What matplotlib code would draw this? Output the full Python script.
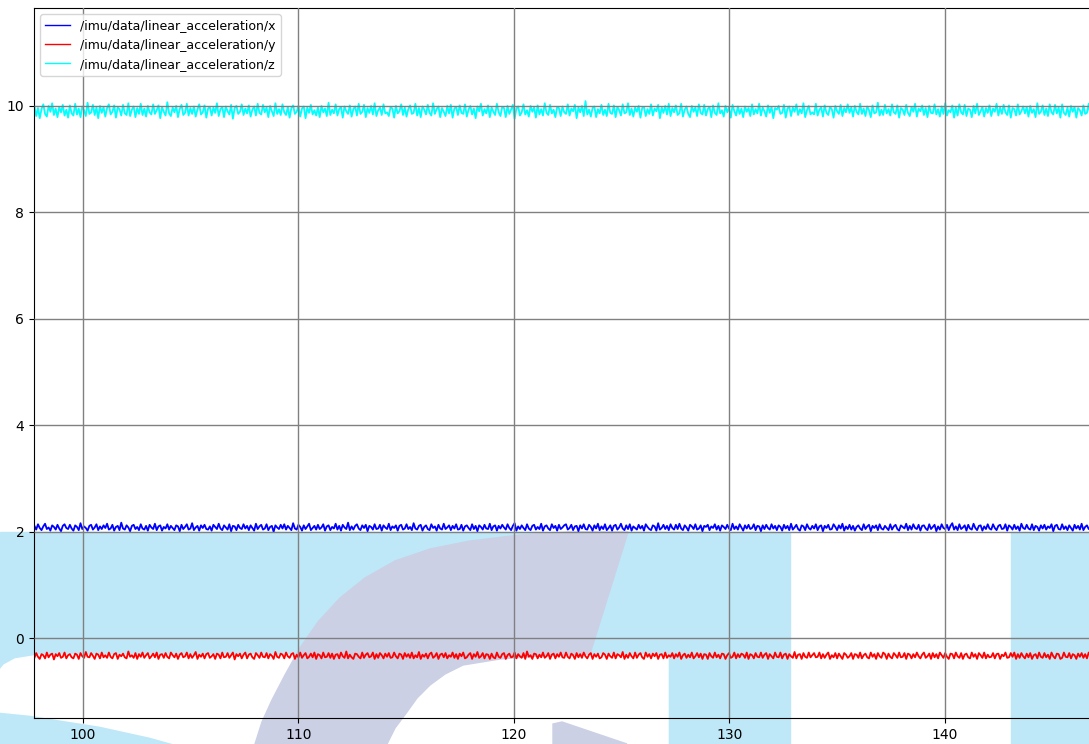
import numpy as np
import matplotlib
matplotlib.use("Agg")
import matplotlib.pyplot as plt
from matplotlib.patches import Polygon, Rectangle

# imu accel topics, sampled evenly between t_start and t_end (s)
t_start = 97.75
t_end = 147.0

labels = ["/imu/data/linear_acceleration/x",
          "/imu/data/linear_acceleration/y",
          "/imu/data/linear_acceleration/z"]
colors = ["#0000ff", "#ff0000", "#00ffff"]

# mean level of each axis (m/s^2)
acc_x_mean = 2.08
acc_y_mean = -0.33
acc_z_mean = 9.91

# deviation from the mean, in 0.01 m/s^2
acc_x_dev = [
    3, -4, 6, -1, -5, 2, 7, -3, 0, -6, 4, 1, -4, 5, -2, -7, 3, 6, -1, -3,
    5, -2, -6, 4, 1, -5, 8, -3, 2, -1, -6, 3, 5, -4, 0, 6, -5, 2, -3, 4,
    -1, 7, -4, -2, 5, -6, 1, 3, -5, 9, -2, -4, 4, 0, -7, 3, 5, -3, 1, -5,
    6, -2, -4, 3, -6, 5, 0, -3, 7, -5, 2, 4, -6, 1, -2, 6, -4, 3, -1, -5,
    4, 2, -7, 5, -3, 1, 6, -4, -2, 8, -5, 0, 3, -6, 4, -1, 5, -3, -4, 2,
    -6, 5, 1, -3, 7, -2, -5, 4, 0, -4, 6, -7, 3, 2, -5, 5, -1, -3, 6, -2,
    3, -5, 4, -1, -6, 7, -3, 2, 5, -4, -2, 6, -5, 1, 3, -8, 4, 0, -3, 5,
    -2, 6, -4, 3, -1, -5, 8, -2, -4, 5, 1, -6, 4, -3, 2, 7, -5, -1, 3, -4,
    5, -3, 0, 6, -6, 2, 4, -5, 1, -2, 7, -4, 3, -6, 5, 0, -3, 9, -5, 2,
    -4, 3, 6, -2, -5, 4, -1, 5, -7, 3, 1, -4, 6, -3, -2, 5, -6, 4, 0, -3,
    7, -5, 2, -1, 4, -6, 3, 5, -4, -2, 6, -3, 1, -5, 8, -2, -4, 3, 5, -6,
    1, 4, -3, -5, 6, -1, 2, -6, 5, -2, -4, 7, -3, 0, 4, -5, 3, -2, 6, -4,
    -3, 5, -6, 2, 4, -1, -5, 6, -3, 3, -7, 4, 1, -4, 5, -2, -3, 7, -5, 2,
    4, -6, 3, -2, 5, 0, -4, 6, -1, -5, 3, 8, -6, 2, -3, 4, -1, -5, 6, -2,
    -5, 3, 5, -4, 1, -3, 7, -6, 2, 4, -2, -5, 6, -1, 3, -6, 5, -3, 0, 4,
    6, -4, -1, 5, -5, 2, 3, -7, 4, -2, 6, -3, -4, 5, 1, -6, 4, -2, 7, -5,
    2, -3, 6, -5, -1, 4, -6, 3, 5, -4, 0, 7, -2, -5, 4, -3, 6, -6, 2, -1,
    -4, 5, -2, 3, -6, 6, 1, -3, -5, 4, 2, -6, 8, -4, -1, 5, -3, 3, -5, 6,
    -1, -4, 5, -3, 7, -2, -5, 4, 0, -6, 5, 2, -3, 6, -4, -2, 4, -7, 3, 1,
    5, -5, 2, -1, 6, -4, 3, -6, 4, 1, -3, 5, -2, -5, 7, -3, 2, -4, 6, 0,
    -6, 4, -2, 5, -3, -1, 6, -5, 3, 2, -7, 4, -3, 5, -1, -4, 6, -2, 3, -5,
    4, 1, -6, 5, -2, 3, -5, 7, -4, 0, 5, -3, -6, 4, 2, -5, 6, -1, -4, 3,
    -2, 6, -5, 2, 4, -7, 3, -1, 5, -4, -3, 6, 1, -5, 4, -2, 7, -6, 2, -3,
    5, -4, 3, -6, 1, 4, -2, -5, 6, -3, 2, 5, -7, 3, -1, 4, -5, 6, -2, -4,
    3, -1, -5, 6, -4, 2, 5, -3, -6, 4, 1, -2, 7, -5, 3, -4, 6, -1, -3, 5,
    -6, 3, 4, -2, -5, 6, -3, 1, 5, -7, 2, -4, 6, -1, -3, 5, -5, 3, 8, -4,
    2, -5, 6, -3, 0, 4, -6, 5, -2, -4, 7, -1, -5, 3, 4, -6, 2, -3, 6, -2,
    -4, 6, -1, -5, 3, 5, -3, -2, 6, -6, 4, 1, -4, 5, -3, 2, -6, 7, -1, -3,
    5, -2, -4, 6, -5, 3, 1, -6, 4, -2, 5, -4, 2, -1, 6, -7, 3, 5, -3, -4,
    6, -3, 2, -5, 4, -1, -6, 5, -2, 3, -4, 7, -5, 1, 4, -3, -2, 6, -5, 3,
]
acc_y_dev = [
    -4, 5, -2, -6, 3, 1, -5, 6, -3, 2, 4, -7, 3, -1, 5, -4, -2, 6, -5, 1,
    3, -3, -5, 4, 2, -6, 5, -1, -4, 7, -2, -3, 5, 0, -6, 4, 2, -5, 6, -3,
    1, -4, 6, -2, -5, 3, 5, -6, 2, -1, 4, -3, -5, 8, -2, 1, -4, 5, -6, 3,
    -2, 6, -4, 1, 5, -5, -1, 4, -3, 6, -6, 2, 3, -4, 5, -2, -5, 6, 1, -3,
    4, -6, 2, 5, -3, -1, 6, -5, 3, -4, 1, 7, -6, 2, -2, 4, -5, 3, 5, -4,
    -1, 3, -6, 4, 2, -5, 6, -3, -2, 5, -4, 1, 6, -7, 3, -1, 4, -5, 2, 6,
    -5, 2, 4, -3, -6, 5, 1, -4, 6, -2, -3, 5, -5, 3, 0, -6, 7, -2, -4, 4,
    2, -5, 6, -1, -4, 3, 5, -6, 2, -3, 6, -4, 1, 5, -5, -2, 4, -3, 6, -6,
    3, 1, -5, 6, -3, -2, 5, -4, 4, -6, 2, 3, -5, 6, -1, -4, 8, -5, 2, -3,
    -6, 4, 3, -2, -5, 6, -4, 2, 5, -3, -1, 6, -6, 3, -4, 5, 1, -5, 4, -2,
    5, -4, -3, 6, -1, -5, 4, 2, -6, 5, -2, 3, -4, 6, -5, 1, -3, 7, -6, 2,
    -2, 4, -5, 3, 6, -4, -1, 5, -6, 2, 4, -3, 5, -5, 1, -2, 6, -4, 3, -6,
    4, -1, 6, -5, -3, 2, 5, -6, 3, -2, 7, -4, -1, 5, -5, 3, 2, -6, 4, -3,
    -5, 6, -2, -4, 3, 5, -6, 1, 4, -3, -2, 6, -5, 3, -1, -4, 5, -6, 8, -2,
    1, -6, 4, 3, -5, 2, -3, 6, -4, -1, 5, -6, 2, 4, -5, 3, -2, 6, -3, -4,
    6, -2, -5, 4, 1, -6, 5, -3, 3, -4, 6, -1, -5, 2, 5, -6, 3, -2, 4, -5,
    -3, 5, 2, -6, 4, -1, -4, 6, -5, 3, 1, -3, 7, -6, 2, -4, 5, -1, -5, 6,
    -4, 2, 5, -3, -6, 6, -2, 3, -5, 4, -1, 5, -6, 2, 3, -5, 6, -4, 1, -2,
    5, -5, 3, -2, 6, -6, 1, 4, -4, 2, -3, 6, -5, -1, 5, -3, 4, -6, 3, 2,
    -6, 5, -1, -4, 6, -3, 2, -5, 4, 3, -6, 1, 5, -4, -2, 6, -5, 3, -3, 4,
    2, -4, 6, -6, 3, 1, -5, 5, -2, -3, 6, -4, 2, 5, -6, 3, -1, -5, 6, -2,
    -3, 6, -5, 2, 4, -6, 3, -1, -4, 7, -5, 2, 3, -6, 5, -2, -4, 6, -3, 1,
    5, -3, -2, 6, -5, 3, -4, 2, 6, -6, 1, -3, 5, -5, 4, -1, -6, 5, 2, -4,
    -1, 5, -6, 3, 2, -4, 6, -5, 1, 4, -3, -5, 6, -2, 3, -6, 5, -1, -4, 6,
    3, -6, 4, -2, -5, 5, 1, -4, 6, -3, -2, 5, -6, 4, 2, -5, 3, -3, 6, -1,
    -5, 2, 6, -4, -1, 4, -6, 5, -3, 3, -5, 6, 1, -4, 5, -2, -6, 4, 3, -5,
    6, -1, -4, 5, -6, 2, 4, -3, -5, 6, -2, 3, -6, 5, 1, -4, 6, -5, 2, -3,
    -2, 5, -5, 3, 4, -6, 2, -1, 6, -4, -3, 5, -2, 6, -6, 3, -4, 5, -1, -5,
    4, -3, 5, -6, 1, 3, -5, 6, -2, -4, 5, -3, 2, -6, 6, -1, -5, 4, 3, -6,
    -4, 6, -2, -3, 5, -5, 3, 1, -6, 4, -2, 5, -4, 3, -5, 6, -1, -3, 5, -2,
]
acc_z_dev = [
    8, -10, 5, -14, 3, 12, -6, -11, 9, -2, 14, -8, 4, -12, 7, -3, 11, -9, 2, -13,
    10, -5, -9, 13, -7, 4, -12, 8, 1, -10, 15, -6, -3, 11, -8, 6, -14, 9, -4, 7,
    -11, 5, 12, -7, -2, 10, -13, 6, 3, -9, 11, -5, -8, 14, -10, 2, 8, -12, 5, -6,
    13, -8, 4, -11, 9, -3, -7, 12, -6, 1, 10, -14, 7, -2, -9, 16, -5, -10, 6, -3,
    9, -12, 3, 11, -8, -4, 13, -9, 5, -6, 8, -11, 2, 12, -7, -3, 10, -13, 4, 7,
    -9, 6, -4, 14, -10, 3, 7, -12, 8, -1, -7, 11, -15, 5, 9, -6, -2, 12, -8, 4,
    -5, 10, -11, 2, 8, -9, 13, -4, -7, 11, -3, 6, -12, 9, -1, -10, 14, -6, 3, -8,
    12, -3, -8, 7, -13, 5, 10, -6, -2, 9, -11, 4, 8, -14, 6, -4, 11, -7, 1, -9,
    6, -12, 9, -3, 4, -10, 15, -8, 2, -5, 12, -9, 3, 7, -13, 8, -1, -6, 10, -11,
    3, 8, -9, 13, -6, -2, 11, -12, 5, -4, 9, -7, 14, -10, 1, 6, -8, 12, -5, -3,
    -10, 7, 4, -13, 9, -5, -1, 12, -8, 6, -11, 3, 10, -6, -4, 13, -9, 5, -12, 8,
    2, -7, 11, -4, -9, 14, -6, 3, 8, -12, 5, -2, -10, 9, -5, 11, -13, 4, 7, -8,
    10, -4, -6, 12, -11, 2, 9, -7, 4, -14, 8, -1, 13, -9, 3, -5, 10, -12, 6, -2,
    -8, 13, -3, -10, 7, 5, -12, 9, -6, 2, 11, -15, 4, 8, -9, -3, 12, -7, 1, -11,
    9, -2, 6, -13, 10, -7, 3, -9, 14, -4, -8, 11, -5, 2, -12, 7, 5, -10, 8, -3,
    -6, 12, -9, 4, -1, 11, -14, 6, -3, 9, -10, 18, -7, 2, -11, 5, 8, -12, 3, -5,
    11, -8, 2, -10, 13, -4, -6, 10, -12, 7, 1, -9, 12, -5, -3, 14, -8, 4, -11, 6,
    -2, 9, -13, 5, 7, -10, 3, -6, 12, -9, 4, -1, 11, -14, 6, -4, 9, -7, 13, -10,
    5, -3, 10, -8, -5, 13, -11, 2, 8, -6, -12, 9, -2, 6, -10, 12, -4, -7, 11, -9,
    3, 7, -12, 10, -4, -8, 14, -5, 1, -11, 9, -3, 6, -13, 11, -1, -9, 8, -6, 4,
    -12, 8, -2, 5, -10, 12, -7, 3, -5, 13, -9, 6, -1, -11, 10, -4, 7, -14, 5, 2,
    9, -6, -4, 11, -13, 4, 8, -10, 6, -2, 12, -8, 3, -5, 14, -12, 1, 9, -7, -3,
    -7, 13, -9, 2, 6, -11, 10, -4, -8, 7, 3, -13, 9, -1, -6, 11, -10, 5, -3, 12,
    -4, 6, -11, 9, -2, -7, 13, -6, 4, -10, 8, 1, -12, 10, -5, -3, 15, -9, 2, -8,
    11, -5, 3, -9, 12, -3, -6, 10, -13, 5, 2, -8, 11, -4, -10, 7, -2, 13, -11, 4,
    -1, 10, -8, 5, -12, 9, -4, -5, 12, -7, 3, -11, 8, -6, 14, -9, 1, -3, 10, -13,
    6, -9, 12, -3, -7, 11, -10, 4, 2, -12, 9, -5, 13, -8, -1, 7, -11, 5, -4, 10,
    -10, 4, -2, 13, -9, 6, -6, 11, -3, -8, 10, -13, 5, 3, -9, 12, -7, -1, 8, -5,
    7, -11, 9, -4, 3, -12, 14, -6, -2, 10, -8, 4, -10, 12, -3, -7, 11, -5, 6, -13,
    12, -4, -8, 6, -11, 9, -2, 7, -13, 5, 1, -9, 10, -6, -4, 13, -10, 3, 8, -7,
]

x_ticks = [100, 110, 120, 130, 140]
y_ticks = [0, 2, 4, 6, 8, 10]

acc_x = acc_x_mean + 0.01 * np.array(acc_x_dev)
acc_y = acc_y_mean + 0.01 * np.array(acc_y_dev)
acc_z = acc_z_mean + 0.01 * np.array(acc_z_dev)
t = np.linspace(t_start, t_end, len(acc_x))

W, H = 1089, 744
fig = plt.figure(figsize=(W / 100, H / 100), dpi=100)
fig.patch.set_facecolor("white")


def px(pts):
    # pixel coords (y down) -> figure fraction
    return [(x / W, 1 - y / H) for x, y in pts]


# faded logo in the background
sky = "#bee8f7"
lilac = "#cbd0e5"
bg = []
bg.append(Rectangle((0, 0), 790 / W, (H - 532) / H, color=sky))
bg.append(Rectangle((1011 / W, 0), (W - 1011) / W, (H - 532) / H, color=sky))
bg.append(Polygon(px([(668, 655), (40, 655), (15, 659), (4, 665), (0, 670),
                      (0, 712), (30, 715), (100, 726), (150, 737), (175, 744),
                      (668, 744)]), closed=True, color="white"))
bg.append(Polygon(px([(255, 744), (262, 722), (272, 700), (285, 675),
                      (300, 648), (318, 622), (340, 598), (365, 578),
                      (395, 561), (430, 549), (470, 541), (520, 535),
                      (570, 532), (628, 532),
                      (590, 654), (540, 656), (500, 659), (463, 665),
                      (445, 674), (430, 685), (417, 698), (407, 712),
                      (395, 728), (387, 744)]), closed=True, color=lilac))
bg.append(Polygon(px([(553, 724), (562, 722), (627, 744), (553, 744)]),
                  closed=True, color=lilac))
for p in bg:
    p.set_transform(fig.transFigure)
    p.set_zorder(-5)
    fig.patches.append(p)

ax = fig.add_axes([34 / W, 1 - 718 / H, (1093 - 34) / W, (718 - 8) / H])
ax.patch.set_alpha(0)

ax.plot(t, acc_x, color=colors[0], lw=1.3, label=labels[0])
ax.plot(t, acc_y, color=colors[1], lw=1.3, label=labels[1])
ax.plot(t, acc_z, color=colors[2], lw=1.3, label=labels[2])

ax.set_xlim(97.73, 146.87)
ax.set_ylim(-1.5, 11.84)
ax.set_xticks(x_ticks)
ax.set_yticks(y_ticks)
ax.grid(True, color="#808080", lw=1.0)
ax.set_axisbelow(False)
ax.tick_params(labelsize=10)
ax.spines["right"].set_visible(False)

leg = ax.legend(loc="upper left", fontsize=9)
for line in leg.get_lines():
    line.set_linewidth(1.0)

fig.savefig("out.png", dpi=100)
